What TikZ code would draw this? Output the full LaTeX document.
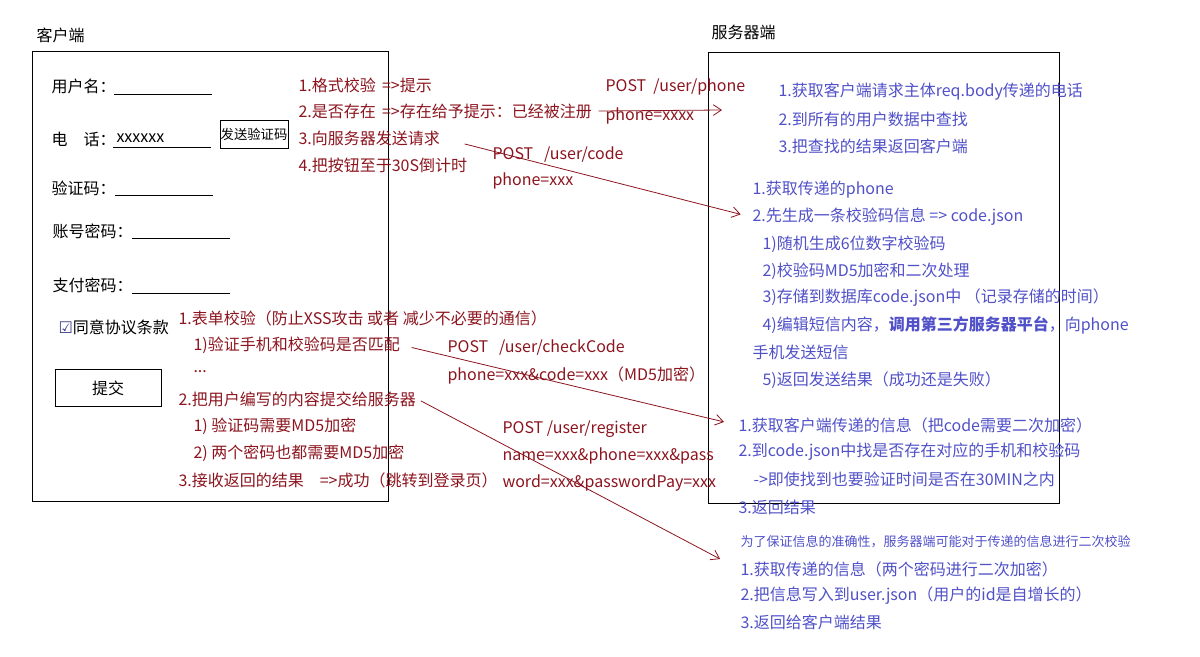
\documentclass[tikz,border=0pt]{standalone}
\usepackage{fontspec}
\setmainfont{Noto Sans CJK SC}
\newfontfamily\symfont{DejaVu Sans}
\usetikzlibrary{arrows.meta}
\definecolor{reqred}{RGB}{140,20,30}
\definecolor{srvblue}{RGB}{80,80,200}

\tikzset{every picture/.style={line width=0.75pt},
  txt/.style={anchor=west,inner sep=0.75pt,font=\fontsize{12}{14}\selectfont},
  redtxt/.style={txt,color=reqred},
  bluetxt/.style={txt,color=srvblue},
  btn/.style={draw,inner sep=0.5pt,font=\fontsize{10}{12}\selectfont},
  req/.style={color=reqred,line width=0.6pt,-{Straight Barb[length=6pt,width=8pt]}}}

\begin{document}
\begin{tikzpicture}[x=0.75pt,y=0.75pt,yscale=-1,xscale=1]
\useasboundingbox (0,0) rectangle (1200,657);

%Rect client
\draw   (32,51) rectangle (388,501) ;
%Rect server
\draw   (708,52) rectangle (1059,503) ;

% Text Node
\draw (35,35) node (client) [txt] {客户端};
% Text Node
\draw (710,32) node (server) [txt] {服务器端};

%Form fields
\draw (50,86) node (uname) [txt] {用户名：};
\draw    (114,94) -- (212,94) ;
\draw (50,139) node (phone) [txt] {电\quad 话：};
\draw (115,138) node (phoneval) [txt] {xxxxxx};
\draw    (113,147) -- (211,147) ;
\draw (254,134) node (sendbtn) [btn,minimum width=51,minimum height=21] {发送验证码};
\draw (50,188) node (vcode) [txt] {验证码：};
\draw    (115,195) -- (213,195) ;
\draw (51,231) node (accpwd) [txt] {账号密码：};
\draw    (132,238) -- (230,238) ;
\draw (51,285) node (paypwd) [txt] {支付密码：};
\draw    (132,293) -- (230,293) ;
\draw (57,327) node (agree) [txt] {{\symfont\color{srvblue!70!black}☑}同意协议条款};
\draw (108,388) node (submit) [btn,minimum width=79.5,minimum height=27.75,font=\fontsize{12}{14}\selectfont] {提交};

%Client notes on the phone field
\draw (297,85) node (c1) [redtxt] {1.格式校验 \,=>提示};
\draw (297,111) node (c2) [redtxt] {2.是否存在 \,=>存在给予提示：已经被注册};
\draw (297,138) node (c3) [redtxt] {3.向服务器发送请求};
\draw (297,165) node (c4) [redtxt] {4.把按钮至于30S倒计时};

%Client notes on submit
\draw (177,318) node (f1) [redtxt] {1.表单校验（防止XSS攻击 或者 减少不必要的通信）};
\draw (192,345) node (f1a) [redtxt] {1)验证手机和校验码是否匹配};
\draw (192,372) node (f1b) [redtxt] {...};
\draw (177,399) node (f2) [redtxt] {2.把用户编写的内容提交给服务器};
\draw (192,426) node (f2a) [redtxt] {1) 验证码需要MD5加密};
\draw (192,453) node (f2b) [redtxt] {2) 两个密码也都需要MD5加密};
\draw (177,480) node (f3) [redtxt] {3.接收返回的结果\quad =>成功（跳转到登录页）};

%Requests
\draw (604,87) node (phoneurl) [redtxt] {POST\ \ /user/phone};
\draw (604,116) node (phonebody) [redtxt] {phone=xxxx};
\draw (491,155) node (codeurl) [redtxt] {POST\ \ \ /user/code};
\draw (491,181) node (codebody) [redtxt] {phone=xxx};
\draw (446,348) node (checkurl) [redtxt] {POST\ \ \ /user/checkCode};
\draw (446,375) node (checkbody) [redtxt] {phone=xxx\&code=xxx（MD5加密）};
\draw (501,429) node (regurl) [redtxt] {POST /user/register};
\draw (501,456) node (regbody) [redtxt] {name=xxx\&phone=xxx\&pass};
\draw (501,483) node (regbody2) [redtxt] {word=xxx\&passwordPay=xxx};

%Server: /user/phone
\draw (777,92) node (p1) [bluetxt] {1.获取客户端请求主体req.body传递的电话};
\draw (777,119) node (p2) [bluetxt] {2.到所有的用户数据中查找};
\draw (777,146) node (p3) [bluetxt] {3.把查找的结果返回客户端};

%Server: /user/code
\draw (751,190) node (s1) [bluetxt] {1.获取传递的phone};
\draw (751,217) node (s2) [bluetxt] {2.先生成一条校验码信息 => code.json};
\draw (761,244) node (s2a) [bluetxt] {1)随机生成6位数字校验码};
\draw (761,271) node (s2b) [bluetxt] {2)校验码MD5加密和二次处理};
\draw (761,298) node (s2c) [bluetxt] {3)存储到数据库code.json中 （记录存储的时间）};
\draw (761,325) node (s2d) [bluetxt] {4)编辑短信内容，\textbf{调用第三方服务器平台}，向phone};
\draw (751,352) node (s2e) [bluetxt] {手机发送短信};
\draw (761,380) node (s2f) [bluetxt] {5)返回发送结果（成功还是失败）};

%Server: /user/checkCode
\draw (737,425) node (t1) [bluetxt] {1.获取客户端传递的信息（把code需要二次加密）};
\draw (737,452) node (t2) [bluetxt] {2.到code.json中找是否存在对应的手机和校验码};
\draw (752,479) node (t2a) [bluetxt] {->即使找到也要验证时间是否在30MIN之内};
\draw (737,507) node (t3) [bluetxt] {3.返回结果};

%Server: /user/register
\draw (739,542) node (rnote) [bluetxt,font=\fontsize{9.75}{11}\selectfont] {为了保证信息的准确性，服务器端可能对于传递的信息进行二次校验};
\draw (739,569) node (r1) [bluetxt] {1.获取传递的信息（两个密码进行二次加密）};
\draw (739,596) node (r2) [bluetxt] {2.把信息写入到user.json（用户的id是自增长的）};
\draw (739,622) node (r3) [bluetxt] {3.返回给客户端结果};

%Arrows
\coordinate (phoneend) at (722,110);
\draw [req] ([xshift=4]c2.east) -- (phoneend) ;
\draw [req,shorten <=18pt,shorten >=8pt] (c3.east) -- (s2.west) ;
\draw [req,shorten <=8pt,shorten >=10pt] (f1a.east) -- (t1.west) ;
\draw [req,shorten <=3pt,shorten >=16pt] (f2.east) -- (r1.west) ;

\end{tikzpicture}
\end{document}
